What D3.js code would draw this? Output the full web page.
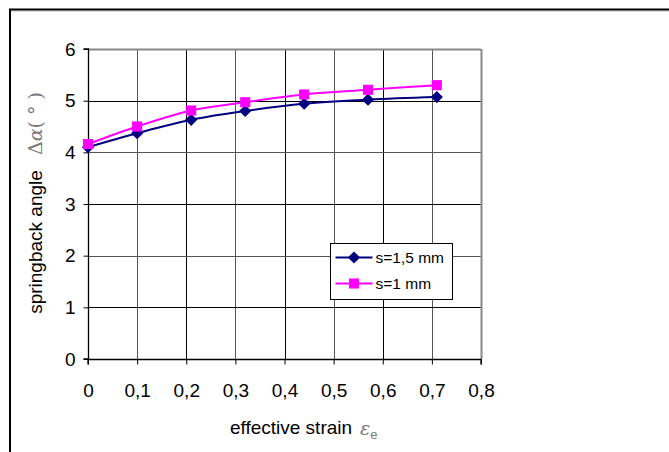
<!DOCTYPE html>
<html>
<head>
<meta charset="utf-8">
<script src="https://cdn.jsdelivr.net/npm/d3@7"></script>
<style>
  body { margin: 0; background: #fff; }
  svg { display: block; font-family: "Liberation Sans", Arial, sans-serif; }
</style>
</head>
<body>
<div class="chart"></div>
<script>
// strain values (x) and springback angle for both sheet thicknesses
var strain = [0, 0.1, 0.21, 0.32, 0.44, 0.57, 0.71];
var angle15 = [4.1, 4.37, 4.63, 4.8, 4.94, 5.02, 5.07];
var angle10 = [4.16, 4.5, 4.81, 4.97, 5.12, 5.21, 5.3];
var seriesNames = ['s=1,5 mm', 's=1 mm'];
var xTicks = [0, 0.1, 0.2, 0.3, 0.4, 0.5, 0.6, 0.7, 0.8];
var yTicks = [0, 1, 2, 3, 4, 5, 6];

draw();

function draw() {
    var width = 669, height = 452;
    var plotLeft = 88, plotRight = 481, plotTop = 49, plotBottom = 359;

    var svg = d3.select('.chart')
        .append('svg')
        .attr('width', width)
        .attr('height', height);

    // outer frame (runs off the right and bottom edge)
    svg.append('line').attr('x1', 9).attr('x2', width).attr('y1', 11).attr('y2', 11)
        .attr('stroke', '#bbb').attr('stroke-width', 1);
    svg.append('line').attr('x1', 9).attr('x2', width).attr('y1', 9.5).attr('y2', 9.5)
        .attr('stroke', '#000').attr('stroke-width', 2);
    svg.append('line').attr('x1', 10).attr('x2', 10).attr('y1', 9).attr('y2', height)
        .attr('stroke', '#000').attr('stroke-width', 2);

    var x = d3.scaleLinear().domain([0, 0.8]).range([plotLeft, plotRight]);
    var y = d3.scaleLinear().domain([0, 6]).range([plotBottom, plotTop]);

    var fmt = function (d) { return String(d).replace('.', ','); };

    // grid
    var grid = svg.append('g');
    grid.selectAll('.vg')
        .data(xTicks.slice(1))
        .enter()
        .append('line')
        .attr('x1', function (d) { return Math.round(x(d)) + 0.5; })
        .attr('x2', function (d) { return Math.round(x(d)) + 0.5; })
        .attr('y1', plotTop).attr('y2', plotBottom)
        .attr('stroke', function (d, i) { return i % 2 === 1 ? '#000' : '#555'; })
        .attr('stroke-width', 1);
    grid.selectAll('.hg')
        .data(yTicks.slice(1))
        .enter()
        .append('line')
        .attr('x1', plotLeft).attr('x2', plotRight)
        .attr('y1', function (d) { return Math.round(y(d)) + 0.5; })
        .attr('y2', function (d) { return Math.round(y(d)) + 0.5; })
        .attr('stroke', function (d) { return d % 2 === 0 ? '#555' : '#000'; })
        .attr('stroke-width', 1);
    svg.append('line').attr('x1', plotRight + 0.5).attr('x2', plotRight + 0.5)
        .attr('y1', plotTop).attr('y2', plotBottom)
        .attr('stroke', '#888').attr('stroke-width', 2);
    svg.append('line').attr('x1', plotLeft).attr('x2', plotRight)
        .attr('y1', plotTop + 0.5).attr('y2', plotTop + 0.5)
        .attr('stroke', '#888').attr('stroke-width', 2);

    // axes
    var yAxis = d3.axisLeft(y).tickValues(yTicks).tickSize(5).tickPadding(8).tickFormat(fmt);
    var xAxis = d3.axisBottom(x).tickValues(xTicks).tickSize(5).tickPadding(19).tickFormat(fmt);

    var gy = svg.append('g').attr('transform', 'translate(' + (plotLeft + 0.5) + ',0)').call(yAxis);
    var gx = svg.append('g').attr('transform', 'translate(0,' + (plotBottom + 0.5) + ')').call(xAxis);
    [gx, gy].forEach(function (g) {
        g.attr('font-size', 19).attr('font-family', '"Liberation Sans", Arial, sans-serif');
        g.select('.domain').attr('stroke', '#000').attr('stroke-width', 1.3);
        g.selectAll('.tick line').attr('stroke', '#000');
        g.selectAll('.tick text').attr('fill', '#000');
    });
    gy.select('.domain').attr('d', 'M-5,' + plotTop + 'H0V' + plotBottom + 'H-5');
    gx.select('.domain').attr('d', 'M' + plotLeft + ',5V0H' + plotRight + 'V5');

    // series
    var data15 = strain.map(function (d, i) { return [d, angle15[i]]; });
    var data10 = strain.map(function (d, i) { return [d, angle10[i]]; });

    var line = d3.line()
        .x(function (d) { return x(d[0]); })
        .y(function (d) { return y(d[1]); })
        .curve(d3.curveCatmullRom.alpha(0.5));

    var diamond = d3.symbol().type(d3.symbolDiamond2).size(95);
    var square = d3.symbol().type(d3.symbolSquare2).size(130);

    svg.append('path').datum(data15).attr('d', line)
        .attr('fill', 'none').attr('stroke', '#000080').attr('stroke-width', 2);
    svg.append('path').datum(data10).attr('d', line)
        .attr('fill', 'none').attr('stroke', '#ff00ff').attr('stroke-width', 2);

    svg.selectAll('.m15')
        .data(data15)
        .enter()
        .append('path')
        .attr('d', diamond)
        .attr('transform', function (d) { return 'translate(' + x(d[0]) + ',' + y(d[1]) + ')'; })
        .attr('fill', '#000080');
    svg.selectAll('.m10')
        .data(data10)
        .enter()
        .append('path')
        .attr('d', square)
        .attr('transform', function (d) { return 'translate(' + x(d[0]) + ',' + y(d[1]) + ')'; })
        .attr('fill', '#ff00ff');

    // legend
    var legend = svg.append('g').attr('transform', 'translate(330.5,243.5)');
    legend.append('rect').attr('width', 122).attr('height', 56)
        .attr('fill', '#fff').attr('stroke', '#000').attr('stroke-width', 1);
    var items = [
        { name: seriesNames[0], color: '#000080', sym: diamond },
        { name: seriesNames[1], color: '#ff00ff', sym: square }
    ];
    items.forEach(function (it, i) {
        var yy = 14 + i * 26;
        legend.append('line').attr('x1', 5).attr('x2', 42).attr('y1', yy).attr('y2', yy)
            .attr('stroke', it.color).attr('stroke-width', 2);
        legend.append('path').attr('d', it.sym)
            .attr('transform', 'translate(23.5,' + yy + ')')
            .attr('fill', it.color);
        legend.append('text').attr('x', 45).attr('y', yy + 5.5)
            .attr('font-size', 15.5).attr('fill', '#000')
            .text(it.name);
    });

    // axis titles
    svg.append('text')
        .attr('transform', 'translate(42,242) rotate(-90)')
        .attr('text-anchor', 'middle')
        .attr('font-size', 19)
        .attr('fill', '#000')
        .text('springback angle');
    var sym = svg.append('text')
        .attr('transform', 'translate(42,155) rotate(-90)')
        .attr('font-size', 19)
        .attr('fill', '#777')
        .attr('font-family', '"DejaVu Serif", serif');
    sym.append('tspan').text('Δ');
    sym.append('tspan').attr('font-style', 'italic').text('α');
    sym.append('tspan').text('( ° )');

    svg.append('text')
        .attr('x', 291).attr('y', 434)
        .attr('text-anchor', 'middle')
        .attr('font-size', 19)
        .attr('fill', '#000')
        .text('effective strain');
    var eps = svg.append('text')
        .attr('x', 360).attr('y', 435)
        .attr('font-size', 19)
        .attr('fill', '#777')
        .attr('font-family', '"DejaVu Serif", serif');
    eps.append('tspan').attr('font-style', 'italic').text('ε');
    eps.append('tspan').attr('font-family', '"Liberation Sans", Arial, sans-serif')
        .attr('font-size', 13).attr('dy', 4).text('e');
}
</script>
</body>
</html>
